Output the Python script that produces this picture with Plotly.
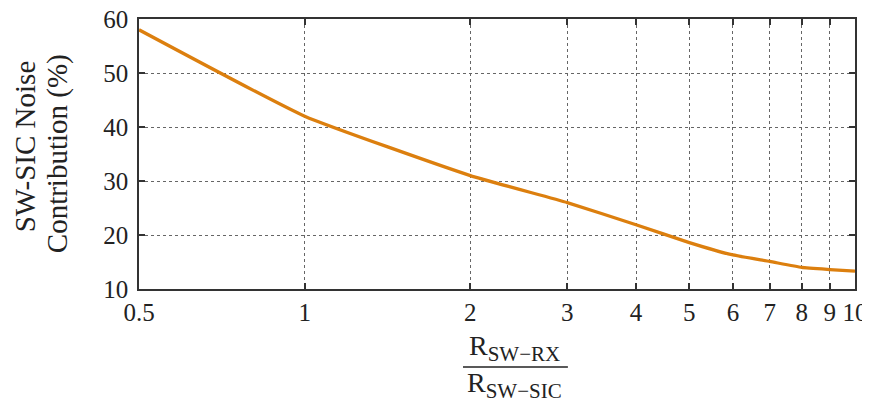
import plotly.graph_objects as go

ratio = [0.5, 1, 2, 3, 4, 5, 6, 7, 8, 9, 10]
contribution = [58, 42, 31, 26, 21.9, 18.6, 16.3, 15.1, 14.0, 13.6, 13.3]
x_ticks = [0.5, 1, 2, 3, 4, 5, 6, 7, 8, 9, 10]
x_tick_text = ["0.5", "1", "2", "3", "4", "5", "6", "7", "8", "9", "10"]
y_ticks = [10, 20, 30, 40, 50, 60]
y_title_lines = ["SW-SIC Noise", "Contribution (%)"]

FONT = "Liberation Serif"
INK = "#222222"

fig = go.Figure()
fig.add_trace(go.Scatter(x=ratio, y=contribution, mode="lines",
                         line=dict(color="#dc7f0e", width=3.3, shape="spline", smoothing=0.4),
                         showlegend=False))

axis_common = dict(showline=True, linecolor="#333333", linewidth=1.6, mirror="ticks",
                   ticks="inside", ticklen=6, tickwidth=1.6, tickcolor="#333333",
                   showgrid=True, gridcolor="#666666", griddash="dot", gridwidth=1,
                   zeroline=False, automargin=False, ticklabeloverflow="allow",
                   tickfont=dict(family=FONT, size=25, color=INK))

fig.update_xaxes(type="log", range=[-0.30103, 1.0], tickvals=x_ticks, ticktext=x_tick_text,
                 **axis_common)
fig.update_yaxes(range=[10, 60], tickvals=y_ticks, ticklabelstandoff=4, **axis_common)

# y-axis title, two rotated lines
for txt, xp, yp in zip(y_title_lines, [-0.160, -0.1135], [0.530, 0.502]):
    fig.add_annotation(xref="paper", yref="paper", x=xp, y=yp, xanchor="center", yanchor="middle",
                       text=txt, textangle=-90, showarrow=False,
                       font=dict(family=FONT, size=29, color=INK))

# x-axis title as a fraction
sub = "<sub><span style='font-size:21px'>{}</span></sub>"
fig.add_annotation(xref="paper", yref="paper", x=0.525, y=-0.22, xanchor="center", yanchor="middle",
                   text="R" + sub.format("SW\u2212RX"), showarrow=False,
                   font=dict(family=FONT, size=28, color=INK))
fig.add_annotation(xref="paper", yref="paper", x=0.525, y=-0.355, xanchor="center", yanchor="middle",
                   text="R" + sub.format("SW\u2212SIC"), showarrow=False,
                   font=dict(family=FONT, size=28, color=INK))
fig.add_shape(type="line", xref="paper", yref="paper", x0=0.4525, x1=0.599, y0=-0.289, y1=-0.289,
              line=dict(color=INK, width=1.5))

# figure sized to sit inside the page's default 8px body margin
fig.update_layout(width=862, height=394, margin=dict(l=131, r=15, t=11, b=113),
                  plot_bgcolor="white", paper_bgcolor="white",
                  font=dict(family=FONT, color=INK))

fig.write_html("out.html")
